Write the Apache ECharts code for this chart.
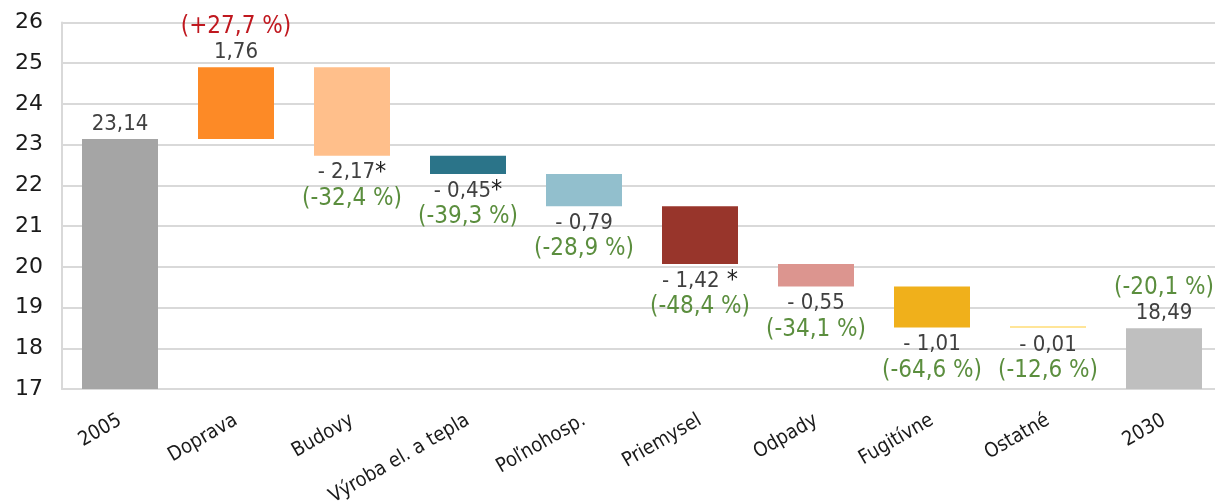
<!DOCTYPE html>
<html><head><meta charset="utf-8">
<script src="https://cdn.jsdelivr.net/npm/echarts@6/dist/echarts.min.js"></script>
<style>html,body{margin:0;padding:0;background:#fff}#c{width:1215px;height:501px}</style>
</head><body><div id="c"></div>
<script>
const categories = ['2005','Doprava','Budovy','Výroba el. a tepla','Poľnohosp.','Priemysel','Odpady','Fugitívne','Ostatné','2030'];
const startValue = 23.14;
const endValue = 18.49;
const changes = [1.76, -2.17, -0.45, -0.79, -1.42, -0.55, -1.01, -0.01];
const valueLabels = ['23,14','1,76','- 2,17','- 0,45','- 0,79','- 1,42','- 0,55','- 1,01','- 0,01','18,49'];
const asterisks = ['','','*','*','','\u00a0*','','','',''];
const percentLabels = ['','(+27,7 %)','(-32,4 %)','(-39,3 %)','(-28,9 %)','(-48,4 %)','(-34,1 %)','(-64,6 %)','(-12,6 %)','(-20,1 %)'];
const barColors = ['#a5a5a5','#fd8a26','#ffbf8b','#2b7489','#92bfcd','#98352b','#dc958f','#f0b01b','#ffe598','#bfbfbf'];
const yTicks = {min: 17, max: 26, interval: 1};

// build floating bars: invisible base + visible segment
const base = [], seg = [];
let level = startValue;
base.push(yTicks.min); seg.push(startValue - yTicks.min);
changes.forEach(c => {
  const lo = c > 0 ? level : level + c;
  base.push(lo); seg.push(Math.abs(c));
  level += c;
});
base.push(yTicks.min); seg.push(endValue - yTicks.min);

const FONT = 'DejaVu Sans Condensed';
const rich = {
  v: {fontFamily: FONT, fontSize: 22, color: '#404040', lineHeight: 26},
  s: {fontFamily: FONT, fontSize: 25, color: '#222', lineHeight: 26, verticalAlign: 'top'},
  pg: {fontFamily: FONT, fontSize: 24, color: '#5b8e3e', lineHeight: 26},
  pr: {fontFamily: FONT, fontSize: 24, color: '#c0181f', lineHeight: 26}
};

const segData = seg.map((v, i) => {
  const up = (i === 0 || i === categories.length - 1 || (i > 0 && i <= changes.length && changes[i-1] > 0));
  let fmt;
  if (up) {
    const pstyle = (i > 0 && i <= changes.length) ? 'pr' : 'pg';
    fmt = (percentLabels[i] ? '{' + pstyle + '|' + percentLabels[i] + '}\n' : '') + '{v|' + valueLabels[i] + '}';
  } else {
    fmt = '{v|' + valueLabels[i] + '}' + (asterisks[i] ? '{s|' + asterisks[i] + '}' : '') + '\n{pg|' + percentLabels[i] + '}';
  }
  return {
    value: v,
    itemStyle: {color: barColors[i]},
    label: {show: true, position: up ? 'top' : 'bottom', distance: up ? 2 : 4, formatter: fmt, rich: rich, align: 'center'}
  };
});

const chart = echarts.init(document.getElementById('c'));
chart.setOption({
  animation: false,
  grid: {left: 62, top: 22.5, width: 1160, height: 366.5, containLabel: false, outerBoundsMode: 'none'},
  xAxis: {
    type: 'category', data: categories,
    axisTick: {show: false},
    axisLine: {lineStyle: {color: '#d9d9d9', width: 2}},
    axisLabel: {rotate: 30, interval: 0, margin: 30, fontFamily: FONT, fontSize: 20, color: '#1a1a1a'}
  },
  yAxis: {
    type: 'value', min: yTicks.min, max: yTicks.max, interval: yTicks.interval,
    axisLine: {show: true, lineStyle: {color: '#d9d9d9', width: 2}},
    axisTick: {show: false},
    splitLine: {lineStyle: {color: '#d9d9d9', width: 2}},
    axisLabel: {margin: 19, fontFamily: 'DejaVu Sans', fontSize: 22, color: '#1a1a1a'}
  },
  series: [
    {type: 'bar', stack: 'w', data: base, barWidth: 76, silent: true, itemStyle: {color: 'transparent'}},
    {type: 'bar', stack: 'w', data: segData, barWidth: 76, barMinHeight: 2}
  ]
});
</script></body></html>
